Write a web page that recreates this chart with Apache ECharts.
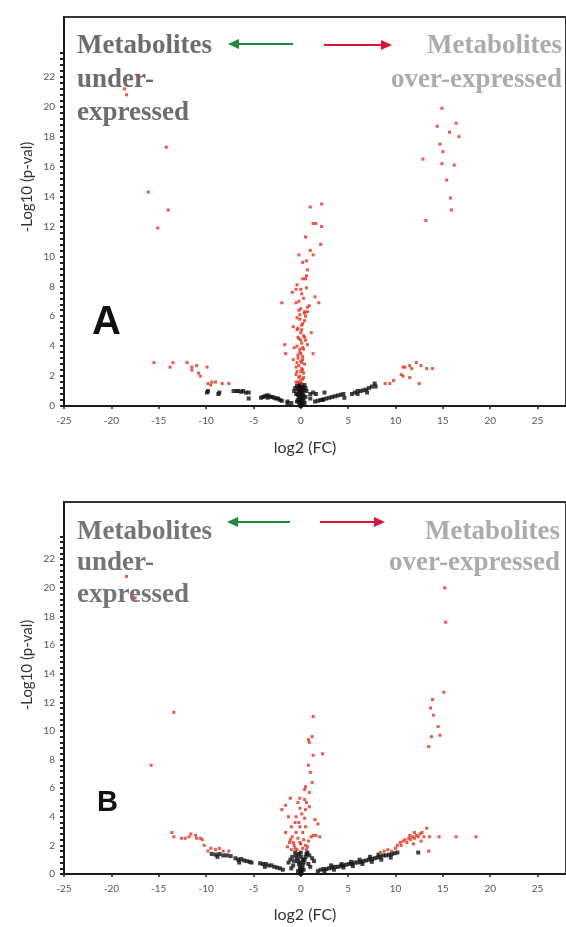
<!DOCTYPE html>
<html>
<head>
<meta charset="utf-8">
<script src="https://cdn.jsdelivr.net/npm/echarts@6/dist/echarts.min.js"></script>
<style>html,body{margin:0;padding:0;background:#fff;}#c{width:566px;height:927px;}</style>
</head>
<body>
<div id="c"></div>
<script>
// ---- tick labels ----
const xTicks = [-25, -20, -15, -10, -5, 0, 5, 10, 15, 20, 25];
const yTicks = [0, 2, 4, 6, 8, 10, 12, 14, 16, 18, 20, 22];

// ---- panel A ----
const aRed = [
  [-17.2,22.1],[-18.6,21.2],[-18.4,20.8],[-14.2,17.3],[-16.1,14.3],[-14.0,13.1],[-15.1,11.9],
  [-15.5,2.9],[-13.8,2.6],[-13.5,2.9],[-12.0,2.9],[-11.5,2.6],[-11.0,2.7],[-11.5,2.4],[-10.8,2.2],[-10.6,2.0],
  [-9.9,2.6],[-9.8,1.5],[-9.0,1.6],[-8.3,1.5],[-7.6,1.5],[-9.4,1.6],[-9.5,1.4],
  [1.0,13.3],[2.2,13.5],[1.3,12.2],[1.6,12.2],[2.2,12.0],[0.5,11.3],[2.1,10.8],[1.0,10.4],[-0.2,10.1],[1.3,10.1],
  [0.2,9.6],[0.6,9.7],[0.7,9.1],[0.6,8.7],[0.2,8.5],[0.5,8.5],[-0.4,8.1],[-0.5,7.8],[0.0,7.8],[0.6,7.9],
  [-0.9,7.6],[0.1,7.5],[1.5,7.3],[-2.0,6.9],[-0.5,6.9],[1.9,6.9],[0.9,6.7],[0.7,6.6],[0.4,6.3],[0.7,6.3],
  [-0.1,6.1],[0.5,6.0],[-0.4,5.9],[0.4,5.7],[-0.8,5.3],[0.1,5.4],[-0.4,5.1],[1.1,4.9],[-0.3,4.6],[0.5,4.4],
  [-1.7,4.1],[-0.7,3.9],[0.7,4.1],[-1.6,3.5],[1.3,3.5],[-0.3,3.4],[0.2,3.1],[-0.8,3.1],[-0.5,2.6],[0.2,2.4],
  [-0.5,2.1],[0.0,1.7],[-0.5,1.6],
  [-0.3,1.6],[0.2,1.8],[-0.1,2.0],[0.3,2.2],[-0.4,2.3],[0.1,2.5],[-0.2,2.7],[0.4,2.8],[0.0,3.0],[-0.3,3.2],
  [0.2,3.3],[-0.1,3.6],[0.3,3.8],[-0.4,4.0],[0.1,4.2],[-0.2,4.5],[0.3,4.7],[0.0,4.9],[-0.3,5.2],[0.2,5.5],
  [-0.1,5.8],[0.4,6.2],[0.0,6.5],[-0.2,7.0],[0.3,7.2],[0.1,1.5],[0.0,2.3],[0.0,3.5],[0.0,4.4],[0.2,3.9],
  [-0.2,1.9],[0.1,2.9],[-0.1,3.8],[0.1,5.1],[-0.2,6.4],[0.4,4.6],[-0.4,2.9],[0.3,1.9],
  [8.9,1.5],[9.4,1.5],[9.8,1.7],[10.6,2.1],[10.8,2.6],[11.0,2.6],[11.5,2.7],[11.7,2.5],[12.2,2.9],[12.7,2.7],
  [13.3,2.5],[13.9,2.5],[11.5,1.9],[12.5,1.5],[10.8,2.0],
  [14.9,19.9],[14.4,18.7],[16.4,18.9],[15.7,18.3],[16.7,18.0],[14.7,17.5],[15.0,17.0],[12.9,16.5],[14.9,16.2],
  [16.2,16.1],[15.4,15.1],[15.8,13.9],[15.9,13.1],[13.2,12.4]
];
const aBlack = [
  [0,0.05],[0.1,0.1],[-0.1,0.15],[0.2,0.2],[-0.2,0.25],[0,0.3],[0.3,0.35],[-0.3,0.4],[0.1,0.45],[-0.1,0.5],
  [0.2,0.55],[-0.2,0.6],[0,0.65],[0.3,0.7],[-0.3,0.75],[0.1,0.8],[-0.1,0.85],[0.2,0.9],[-0.2,0.95],[0,1.0],
  [0.3,1.05],[-0.3,1.1],[0.1,1.15],[-0.1,1.2],[0.2,1.25],[-0.2,1.3],[0,1.35],[0.4,1.4],[-0.4,1.35],[0.1,1.4],
  [-0.6,1.2],[0.5,1.2],[-0.7,1.0],[0.6,1.0],[-0.5,0.8],[0.5,0.6],[-0.4,0.3],[0.4,0.2],[0,0.0],[-0.1,1.45],
  [1.0,0.8],[1.3,0.9],[1.6,0.8],[2.3,0.4],[1.0,0.5],[-1.4,0.3],[-1.0,0.2],
  [-9.9,0.9],[-9.8,1.0],[-8.6,0.9],[-8.7,0.8],[-7.1,1.0],[-6.8,1.0],[-6.6,1.0],[-6.3,0.95],[-6.1,1.0],
  [-5.8,0.9],[-5.5,0.9],[-5.5,0.5],[-4.0,0.6],[-3.8,0.65],[-3.6,0.7],[-3.4,0.7],[-3.2,0.6],[-3.0,0.6],
  [-2.8,0.55],[-2.6,0.5],[-2.4,0.5],[-2.2,0.4],[-2.0,0.35],[-1.4,0.2],[-4.2,0.55],[-3.5,0.55],
  [1.5,0.3],[1.8,0.35],[2.1,0.4],[2.4,0.45],[2.7,0.5],[3.0,0.55],[3.3,0.6],[3.6,0.65],[3.9,0.7],[4.2,0.75],
  [4.5,0.8],[2.5,0.9],[4.6,0.55],[5.4,0.8],[5.7,0.9],[6.0,1.0],[6.3,1.0],[6.6,1.05],[6.9,1.1],[7.2,1.2],
  [7.5,1.3],[7.8,1.5],[6.0,0.8],[7.0,0.9],[7.9,1.3]
];

// ---- panel B ----
const bRed = [
  [-18.4,20.8],[-17.5,19.3],[-13.4,11.3],[-15.8,7.6],
  [-13.6,2.9],[-13.4,2.6],[-12.6,2.5],[-12.2,2.5],[-11.8,2.6],[-11.6,2.8],[-11.1,2.7],[-11.0,2.5],[-10.6,2.5],
  [-10.4,2.4],[-10.2,2.0],[-9.5,1.8],[-9.0,1.7],[-8.6,1.8],[-8.2,1.6],[-7.6,1.6],[-9.8,1.6],
  [1.3,11.0],[1.2,9.6],[0.8,9.4],[0.9,9.2],[1.3,8.3],[2.3,8.4],[0.8,7.6],[1.0,7.1],[1.2,6.4],[0.5,6.1],
  [0.4,5.9],[0.9,5.7],[-1.1,5.3],[-0.1,5.3],[0.4,5.2],[-1.6,4.8],[-0.3,5.0],[0.6,5.0],[-2.0,4.5],[-0.1,4.6],
  [0.5,4.5],[0.9,4.7],[-1.3,4.0],[-0.5,4.0],[0.4,3.9],[1.5,3.8],[1.8,3.5],[-1.0,3.3],[-0.1,3.3],[0.5,3.3],
  [-1.6,2.9],[-0.5,2.9],[0.2,2.9],[1.3,2.7],[2.0,2.6],[-1.1,2.4],[-0.8,2.2],[-0.1,2.2],[0.5,2.0],[-1.4,1.9],
  [-0.6,1.8],[0.2,1.8],[0.7,1.9],[-1.2,2.2],[-0.9,2.6],[-0.7,2.0],[-0.3,2.5],[0.0,2.1],[0.3,2.4],[0.8,2.3],
  [-1.0,1.7],[-0.4,1.7],[0.6,1.7],[1.1,2.6],[-0.2,3.6],[0.1,4.2],[-0.6,3.6],[1.6,2.7],
  [8.4,1.5],[8.8,1.6],[9.2,1.7],[9.6,1.6],[10.0,1.8],[10.2,2.0],[10.5,2.2],[10.8,2.3],[11.0,2.4],[11.2,2.2],
  [11.4,2.5],[11.6,2.4],[11.8,2.6],[12.0,2.5],[12.2,2.7],[12.4,2.6],[12.6,2.8],[12.8,2.9],[12.0,2.9],[11.5,2.7],
  [10.6,2.0],[13.0,2.6],[13.3,3.2],[13.6,2.6],[14.6,2.6],[16.4,2.6],[18.5,2.6],[13.5,1.6],[12.7,2.3],[11.9,2.1],
  [15.2,20.0],[15.3,17.6],[15.1,12.7],[13.9,12.2],[13.7,11.6],[14.0,11.1],[14.5,10.3],[13.8,9.6],[14.7,9.7],[13.5,8.9]
];
const bBlack = [
  [0,0.0],[0,0.1],[0.1,0.2],[-0.1,0.3],[0.1,0.4],[-0.1,0.5],[0.2,0.6],[-0.2,0.7],[0.3,0.8],[-0.3,0.9],
  [0.4,1.0],[-0.4,1.1],[0.5,1.2],[-0.5,1.3],[0.6,1.4],[-0.6,1.5],[0.0,1.5],[0.9,1.3],[-0.9,1.2],[1.2,1.1],
  [-1.1,1.0],[1.4,0.9],[-1.3,0.8],[0.8,0.7],[-0.8,0.6],[0.3,0.3],[-0.3,0.2],[0.0,0.8],[0.0,1.2],[1.0,0.5],
  [-1.0,0.4],[0.2,1.0],[-0.2,1.4],[0.7,1.5],[-0.7,0.9],
  [-9.4,1.4],[-9.0,1.35],[-8.6,1.4],[-8.2,1.3],[-7.8,1.3],[-7.4,1.25],[-6.9,1.1],[-6.6,1.0],[-6.3,1.05],
  [-6.0,0.95],[-5.7,0.9],[-5.4,0.85],[-5.2,0.8],[-4.3,0.75],[-4.0,0.7],[-3.7,0.7],[-3.4,0.6],[-3.1,0.6],
  [-2.8,0.5],[-2.5,0.45],[-2.2,0.4],[-1.9,0.3],[-6.5,0.8],[-3.8,0.5],[-8.8,1.2],
  [1.8,0.2],[2.1,0.3],[2.4,0.35],[2.7,0.35],[3.0,0.4],[3.3,0.45],[3.6,0.5],[3.9,0.5],[4.2,0.55],[4.5,0.6],
  [4.8,0.65],[5.1,0.7],[5.4,0.7],[5.7,0.8],[6.0,0.8],[6.3,0.85],[6.6,0.9],[6.9,0.95],[7.2,1.0],[7.5,1.05],
  [7.8,1.1],[8.1,1.15],[8.4,1.2],[8.7,1.3],[9.0,1.3],[9.3,1.35],[9.6,1.4],[9.9,1.45],[10.2,1.5],[2.5,0.2],
  [3.5,0.3],[4.5,0.45],[5.5,0.55],[6.5,0.7],[7.5,0.85],[8.5,1.0],[9.5,1.15],[3.2,0.6],[4.3,0.7],[5.3,0.85],
  [6.2,1.0],[7.3,1.2],[8.2,1.35],[12.4,1.5]
];

// minor tick positions (style only)
const yMinor = [];
for (let i = 0; i <= 59; i++) yMinor.push(+(i * 0.4).toFixed(1));

const FONT = 'Lato';
const RED = '#e2301a';
const BLACK = '#111';

function xAxisDef(gi) {
  return {
    gridIndex: gi, type: 'value', min: -25, max: 28, interval: 5,
    axisLine: { show: true, onZero: false, lineStyle: { color: '#1a1a1a', width: 2 } },
    axisTick: { show: true, length: 3, lineStyle: { color: '#222', width: 1.5 }, customValues: xTicks },
    axisLabel: { customValues: xTicks, color: '#555', fontSize: 10, fontFamily: FONT, margin: 10 },
    splitLine: { show: false }
  };
}
function yAxisDef(gi) {
  return {
    gridIndex: gi, type: 'value', min: 0, max: 26, interval: 2, position: 'left',
    axisLine: { show: true, onZero: false, lineStyle: { color: '#1a1a1a', width: 2 } },
    axisTick: { show: true, length: 4, lineStyle: { color: '#222', width: 2 }, customValues: yMinor },
    axisLabel: { customValues: yTicks, color: '#555', fontSize: 10, fontFamily: FONT, margin: 9 },
    splitLine: { show: false }
  };
}
function sc(data, xi, color, size) {
  return {
    type: 'scatter', xAxisIndex: xi, yAxisIndex: xi, data: data,
    symbol: 'rect', symbolSize: size, itemStyle: { color: color }, silent: true, animation: false
  };
}

function arrow(x1, x2, tip, y, color) {
  const dir = tip < x1 ? 1 : -1;
  return [
    { type: 'line', shape: { x1: x1, y1: y, x2: x2, y2: y }, style: { stroke: color, lineWidth: 2 } },
    { type: 'polygon', shape: { points: [[tip, y], [tip + dir * 11, y - 5], [tip + dir * 11, y + 5]] }, style: { fill: color } }
  ];
}
function txt(text, x, y, font, fill, align, extra) {
  return Object.assign({ type: 'text', x: x, y: y, style: { text: text, x: 0, y: 0, font: font, fill: fill, align: align, verticalAlign: 'middle' } }, extra || {});
}

const serif = 'bold 27px "Liberation Serif", "DejaVu Serif", serif';
const graphics = [].concat(
  arrow(293, 236, 228, 44, '#1f8a3c'),
  arrow(324, 384, 392, 45, '#d8143a'),
  arrow(290, 235, 227, 522, '#1f8a3c'),
  arrow(320, 377, 385, 522, '#d8143a'),
  [
    txt('Metabolites', 77, 46, serif, '#6d6d6d', 'left'),
    txt('under-', 77, 80, serif, '#6d6d6d', 'left'),
    txt('expressed', 77, 113, serif, '#6d6d6d', 'left'),
    txt('Metabolites', 562, 46, serif, '#ababab', 'right'),
    txt('over-expressed', 562, 80, serif, '#ababab', 'right'),
    txt('Metabolites', 77, 532, serif, '#757575', 'left'),
    txt('under-', 77, 563, serif, '#757575', 'left'),
    txt('expressed', 77, 595, serif, '#757575', 'left'),
    txt('Metabolites', 560, 532, serif, '#ababab', 'right'),
    txt('over-expressed', 560, 563, serif, '#ababab', 'right'),
    txt('A', 92, 323, 'bold 40px "Liberation Sans", Arial, sans-serif', '#111', 'left'),
    txt('B', 97, 803, 'bold 29px "Liberation Sans", Arial, sans-serif', '#111', 'left'),
    txt('-Log10 (p-val)', 27, 187, '15px ' + FONT, '#333', 'center', { rotation: Math.PI / 2 }),
    txt('-Log10 (p-val)', 27, 665, '15px ' + FONT, '#333', 'center', { rotation: Math.PI / 2 }),
    txt('log2 (FC)', 305, 448, '16px ' + FONT, '#333', 'center'),
    txt('log2 (FC)', 305, 915, '16px ' + FONT, '#333', 'center')
  ]
);

const chart = echarts.init(document.getElementById('c'), null, { renderer: 'canvas' });
chart.setOption({
  animation: false,
  backgroundColor: '#fff',
  grid: [
    { left: 64, top: 17, width: 508, height: 389, show: true, borderColor: '#333', borderWidth: 2, backgroundColor: 'transparent' },
    { left: 64, top: 502, width: 508, height: 372, show: true, borderColor: '#333', borderWidth: 2, backgroundColor: 'transparent' }
  ],
  xAxis: [xAxisDef(0), xAxisDef(1)],
  yAxis: [yAxisDef(0), yAxisDef(1)],
  series: [
    sc(aBlack, 0, BLACK, 4), sc(aRed, 0, RED, 3),
    sc(bBlack, 1, BLACK, 4), sc(bRed, 1, RED, 3)
  ],
  graphic: graphics
});
</script>
</body>
</html>
